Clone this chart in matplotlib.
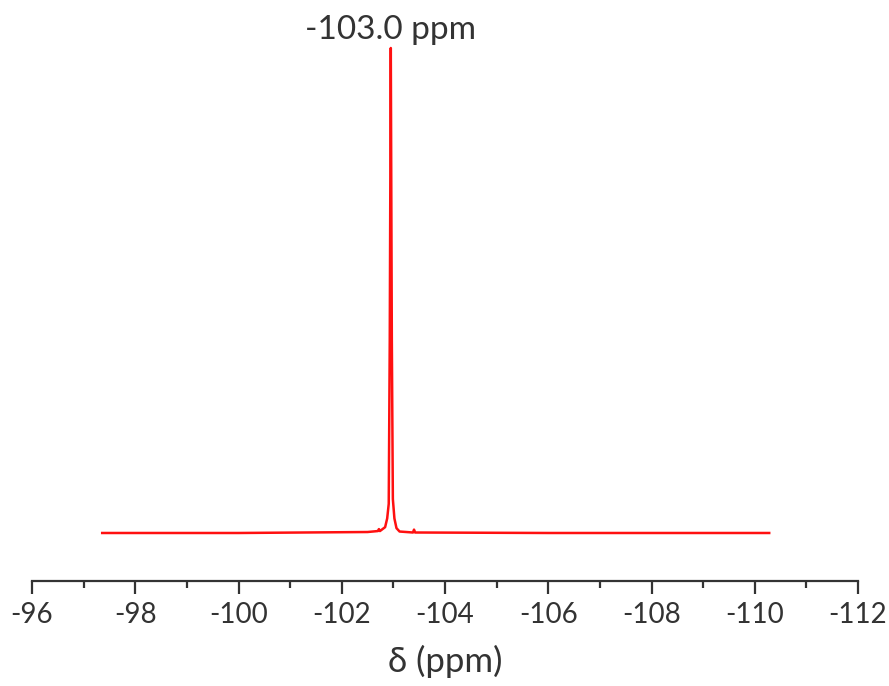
import matplotlib
matplotlib.use("Agg")
import matplotlib.pyplot as plt
from matplotlib.ticker import MultipleLocator

# Spectrum points (ppm, relative intensity)
shift_ppm = [-97.36, -100.00, -102.50, -102.70, -102.72, -102.74, -102.84,
             -102.88, -102.91, -102.93, -102.95, -102.97, -102.99, -103.02,
             -103.06, -103.12, -103.38, -103.40, -103.42, -106.00, -110.28]
intensity = [0.000, 0.000, 0.002, 0.004, 0.008, 0.004, 0.012,
             0.030, 0.060, 0.400, 1.000, 0.400, 0.070, 0.030,
             0.010, 0.003, 0.001, 0.007, 0.001, 0.000, 0.000]

peak_label = "-103.0 ppm"
peak_pos = -102.95
x_ticks = [-96, -98, -100, -102, -104, -106, -108, -110, -112]
x_label = "δ (ppm)"

txt = "#333333"
plt.rcParams['font.family'] = ['Lato', 'DejaVu Sans']

fig = plt.figure(figsize=(8.89, 6.86), dpi=100)
ax = fig.add_axes([32/889, 1 - 581/686, (858-32)/889, (581-40)/686])
ax.plot(shift_ppm, intensity, color="#ff1010", lw=1.8)
ax.set_xlim(-96, -112)
ax.set_ylim(-0.099, 1.0165)
ax.set_xticks(x_ticks)
ax.set_xticklabels([str(t) for t in x_ticks])
ax.xaxis.set_minor_locator(MultipleLocator(1))
for s in ["top", "left", "right"]:
    ax.spines[s].set_visible(False)
ax.spines["bottom"].set_linewidth(1.6)
ax.spines["bottom"].set_color("#333333")
ax.set_yticks([])
ax.tick_params(axis="x", which="major", length=9, width=1.6, color="#333333",
               labelsize=20, labelcolor=txt, pad=6)
ax.tick_params(axis="x", which="minor", length=5, width=1.6, color="#333333")
ax.set_xlabel(x_label, fontsize=25, color=txt, labelpad=12)
ax.annotate(peak_label, xy=(peak_pos, 1.0), xytext=(0, 2), textcoords="offset points",
            ha="center", va="bottom", fontsize=24, color=txt, annotation_clip=False)

fig.savefig("out.png", dpi=100)
